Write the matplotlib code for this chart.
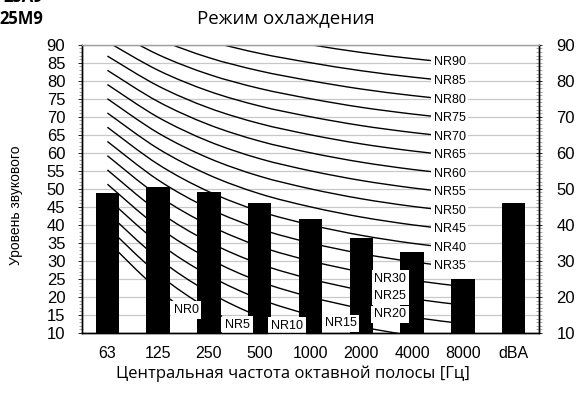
import numpy as np
import matplotlib
matplotlib.use("Agg")
import matplotlib.pyplot as plt
from matplotlib.ticker import MultipleLocator
from matplotlib.path import Path
from matplotlib.patches import PathPatch

# Octave bands and measured sound levels
bands = ["63", "125", "250", "500", "1000", "2000", "4000", "8000", "dBA"]
levels = [48.9, 50.5, 49.1, 46.2, 41.6, 36.5, 32.6, 24.9, 46.2]

# NR curve coefficients per octave band (L = a + b * NR), 63 Hz ... 8000 Hz
nr_a = [35.5, 22.0, 12.0, 4.8, 0.0, -3.5, -6.1, -8.0]
nr_b = [0.790, 0.870, 0.930, 0.974, 1.000, 1.015, 1.025, 1.030]
nr_values = list(range(0, 95, 5))

title = "Режим охлаждения"
xlabel = "Центральная частота октавной полосы [Гц]"
ylabel = "Уровень звукового"
model_lines = ["25A9", "25M9"]


def smooth_path(xs, ys):
    """Catmull-Rom style smoothed path through the given points (cubic Bezier)."""
    pts = np.column_stack([xs, ys])
    n = len(pts)
    verts = [pts[0]]
    codes = [Path.MOVETO]
    for i in range(n - 1):
        p0 = pts[i - 1] if i > 0 else pts[i]
        p1 = pts[i]
        p2 = pts[i + 1]
        p3 = pts[i + 2] if i + 2 < n else pts[i + 1]
        c1 = p1 + (p2 - p0) / 6.0
        c2 = p2 - (p3 - p1) / 6.0
        verts += [c1, c2, p2]
        codes += [Path.CURVE4] * 3
    return Path(verts, codes)


W, H = 579, 396
fig = plt.figure(figsize=(W / 100, H / 100), dpi=100)
ax = fig.add_axes([82 / W, 1 - 333 / H, (539 - 82) / W, (333 - 44.7) / H])

x = np.arange(len(bands))
xb = np.arange(len(nr_a))

# light horizontal grid
for g in range(10, 91, 5):
    ax.axhline(g, color="#c8c8c8", lw=0.9, zorder=0)

# NR curves
nr_curves = {}
for nr in nr_values:
    yv = np.array(nr_a) + np.array(nr_b) * nr
    nr_curves[nr] = yv
    ax.add_patch(PathPatch(smooth_path(xb, yv), fill=False, ec="black",
                           lw=1.0, zorder=1))

# bars
ax.bar(x, levels, width=0.46, bottom=0, color="black", zorder=2)

# NR labels
label_font = dict(family=["Liberation Sans", "DejaVu Sans"], fontsize=9)
box = dict(boxstyle="square,pad=0.22", fc="white", ec="none")
x_right = 6.74
for nr in range(35, 95, 5):
    yl = np.interp(x_right, xb, nr_curves[nr])
    ax.text(x_right, yl, f"NR{nr}", ha="center", va="center", bbox=box,
            zorder=4, **label_font)
low_labels = {0: (1.55, 16.4), 5: (2.56, 12.2), 10: (3.54, 11.9),
              15: (4.59, 12.7), 20: (5.57, 15.2), 25: (5.57, 20.3),
              30: (5.57, 25.0)}
for nr, (lx, ly) in low_labels.items():
    ax.text(lx, ly, f"NR{nr}", ha="center", va="center", bbox=box,
            zorder=4, **label_font)

ax.set_xlim(-0.5, len(bands) - 0.5)
ax.set_ylim(10, 90)

ax.set_xticks(x)
ax.set_xticklabels(bands, family=["Liberation Sans", "DejaVu Sans"], fontsize=11.5)
ax.tick_params(axis="x", length=0, pad=9)

ax.yaxis.set_major_locator(MultipleLocator(5))
ax.yaxis.set_minor_locator(MultipleLocator(1))
ax.tick_params(axis="y", which="major", length=3, width=0.6, pad=9,
               labelsize=12, direction="out")
ax.tick_params(axis="y", which="minor", length=2, width=0.5, direction="out",
               color="#808080")
for t in ax.get_yticklabels():
    t.set_family(["Liberation Sans", "DejaVu Sans"])

# secondary scale on the right
ax2 = ax.twinx()
ax2.set_ylim(10, 90)
ax2.yaxis.set_major_locator(MultipleLocator(10))
ax2.yaxis.set_minor_locator(MultipleLocator(1))
ax2.tick_params(axis="y", which="major", length=5, width=0.6, pad=10,
                labelsize=12, direction="inout")
ax2.tick_params(axis="y", which="minor", length=4, width=0.5, direction="inout",
                color="#808080")
for t in ax2.get_yticklabels():
    t.set_family(["Liberation Sans", "DejaVu Sans"])

for a in (ax, ax2):
    a.spines["top"].set_color("#a0a0a0")
    a.spines["top"].set_linewidth(0.9)
    for s in ("left", "right", "bottom"):
        a.spines[s].set_color("black")
        a.spines[s].set_linewidth(1.0)

cal = ["Open Sans", "DejaVu Sans"]
fig.text(286 / W, 1 - 18 / H, title, ha="center", va="center",
         family=cal, fontsize=13.5)
fig.text(293 / W, 1 - 374 / H, xlabel, ha="center", va="center",
         family=cal, fontsize=12)
fig.text(16 / W, 1 - 205 / H, ylabel, ha="center", va="center",
         rotation=90, family=["Liberation Sans", "DejaVu Sans"], fontsize=10)
fig.text(43 / W, 1 - 2.2 / H, model_lines[0], ha="right", va="baseline",
         family=cal, fontsize=12, fontweight="bold")
fig.text(43 / W, 1 - 24.5 / H, model_lines[1], ha="right", va="baseline",
         family=cal, fontsize=12, fontweight="bold")

fig.savefig("out.png", dpi=100)
